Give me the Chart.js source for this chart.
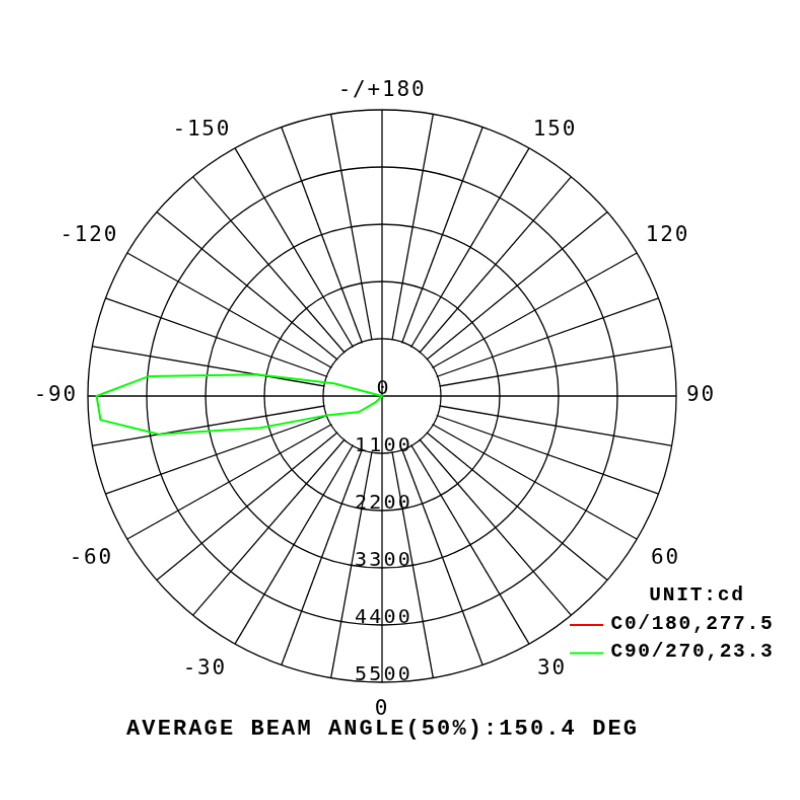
<!DOCTYPE html>
<html>
<head>
<meta charset="utf-8">
<script src="https://cdn.jsdelivr.net/npm/chart.js"></script>
<style>
html,body{margin:0;padding:0;background:#fff;}
/* the source picture is a little wider than tall */
#wrap{width:800px;height:800px;transform-origin:381px 396px;transform:scale(1.0145,0.987);}
</style>
</head>
<body>
<div id="wrap"><canvas id="polarChart" width="800" height="800"></canvas></div>
<script>

// gamma angle of each spoke, clockwise from the top
const angles = [
180,175,170,165,160,155,150,145,140,135,130,125,
120,115,110,105,100,95,90,85,80,75,70,65,
60,55,50,45,40,35,30,25,20,15,10,5,
0,-5,-10,-15,-20,-25,-30,-35,-40,-45,-50,-55,
-60,-65,-70,-75,-80,-85,-90,-95,-100,-105,-110,-115,
-120,-125,-130,-135,-140,-145,-150,-155,-160,-165,-170,-175
]

// candela, same order as angles
const c0_180 = [
0,0,0,0,0,0,0,0,0,0,0,0,
0,0,0,0,0,0,0,0,0,0,0,0,
0,0,0,0,0,0,0,0,0,0,0,0,
0,0,0,0,0,0,0,0,0,0,0,0,
0,0,0,0,0,0,0,0,0,0,0,0,
0,0,0,0,0,0,0,0,0,0,0,0
]
const c90_270 = [
0,0,0,0,0,0,0,0,0,0,0,0,
0,0,0,0,0,0,0,0,0,0,0,0,
0,0,0,0,0,0,0,0,0,0,0,0,
0,0,0,0,0,0,0,0,0,174,262,537,
638,794,1061,2356,4239,5283,5337,4375,2365,932,0,0,
0,0,0,0,0,0,0,0,0,0,0,0
]

const seriesNames = ["C0/180,277.5","C90/270,23.3"]
const seriesColors = ["#ff0000","#00ff00"]
const ringMax = 5500
const ringStep = 1100
const unitText = "UNIT:cd"
const footText = "AVERAGE BEAM ANGLE(50%):150.4 DEG"


// glyphs spaced by hand so the centring ignores the trailing gap
function spacedText(ctx, text, x, y, gap, align){
const chars = text.split("")
let total = 0
chars.forEach(ch=>{ total += ctx.measureText(ch).width + gap })
total -= gap
let cx = x
if(align === "center") cx = x - total/2
if(align === "right") cx = x - total
ctx.textAlign = "left"
chars.forEach(ch=>{
ctx.fillText(ch, cx, y)
cx += ctx.measureText(ch).width + gap
})
}


/* extra drawing: hollow middle, ring values, legend, footer */

const polarExtras = {
id:"polarExtras",

// wide spacing for the angle labels drawn by the scale
beforeUpdate(chart){ chart.ctx.letterSpacing = "1.8px" },
beforeDraw(chart){ chart.ctx.letterSpacing = "1.8px" },

beforeDatasetsDraw(chart){
const ctx = chart.ctx
const r = chart.scales.r
const inner = r.getDistanceFromCenterForValue(ringStep)

ctx.save()
ctx.letterSpacing = "0px"
ctx.fillStyle = "#fff"
ctx.beginPath()
ctx.arc(r.xCenter, r.yCenter, inner - 0.8, 0, Math.PI*2)
ctx.fill()

// only the 4 main spokes cross the middle
ctx.strokeStyle = "#000"
ctx.lineWidth = 1.3
;[0,18,36,54].forEach(i=>{
const p = r.getPointPosition(i, inner)
ctx.beginPath()
ctx.moveTo(r.xCenter, r.yCenter)
ctx.lineTo(p.x, p.y)
ctx.stroke()
})

ctx.font = "20px 'DejaVu Sans Mono'"
ctx.textBaseline = "alphabetic"
ctx.fillStyle = "#000"
r.ticks.forEach(t=>{
const d = r.getDistanceFromCenterForValue(t.value)
spacedText(ctx, String(t.value), r.xCenter + 0.5, r.yCenter + d - 2, 2.2, "center")
})
ctx.restore()
},

afterDraw(chart){
const ctx = chart.ctx
ctx.save()
ctx.letterSpacing = "0px"
ctx.fillStyle = "#000"
ctx.textBaseline = "middle"

ctx.font = "bold 22px 'Liberation Mono'"
spacedText(ctx, footText, 381.5, 733, 2.1, "center")

ctx.font = "bold 19.5px 'Liberation Mono'"
spacedText(ctx, unitText, 691.5, 598.5, 1.8, "center")

chart.data.datasets.forEach((ds,i)=>{
const y = 628 + i*28.4
ctx.strokeStyle = ds.borderColor
ctx.lineWidth = 2
ctx.beginPath()
ctx.moveTo(567, y)
ctx.lineTo(600, y)
ctx.stroke()
spacedText(ctx, ds.label, 607.5, y - 1, 1.7, "left")
})
ctx.restore()
}
}


new Chart(document.getElementById("polarChart"),{

type:"radar",

data:{
labels:angles,
datasets:[
{
label:seriesNames[0],
data:c0_180,
borderColor:seriesColors[0],
backgroundColor:"rgba(0,0,0,0)",
borderWidth:2,
pointRadius:0,
fill:false,
tension:0
},
{
label:seriesNames[1],
data:c90_270,
borderColor:seriesColors[1],
backgroundColor:"rgba(0,0,0,0)",
borderWidth:2,
pointRadius:0,
fill:false,
tension:0
}
]
},

options:{
responsive:false,
animation:false,
devicePixelRatio:1,
layout:{padding:{left:0,right:37,top:71,bottom:69}},
plugins:{
legend:{display:false},
title:{display:false},
tooltip:{enabled:false}
},
scales:{
r:{
min:0,
max:ringMax,
ticks:{stepSize:ringStep,display:false},
grid:{circular:true,color:"#000",lineWidth:1.3},
angleLines:{
color:c=>c.index % 2 ? "rgba(0,0,0,0)" : "#000",
lineWidth:1.3
},
pointLabels:{
color:"#000",
font:{family:"'DejaVu Sans Mono'",size:21,lineHeight:1.142857},
padding:c=>{
const a = Math.abs(angles[c.index])
if(a <= 60) return 16
if(a >= 150) return 7.5
return 10
},
callback:(label)=>{
if(label % 30 !== 0) return ""
if(label === 180) return "-/+180"
return String(label)
}
}
}
}
},

plugins:[polarExtras]

})

</script>
</body>
</html>
